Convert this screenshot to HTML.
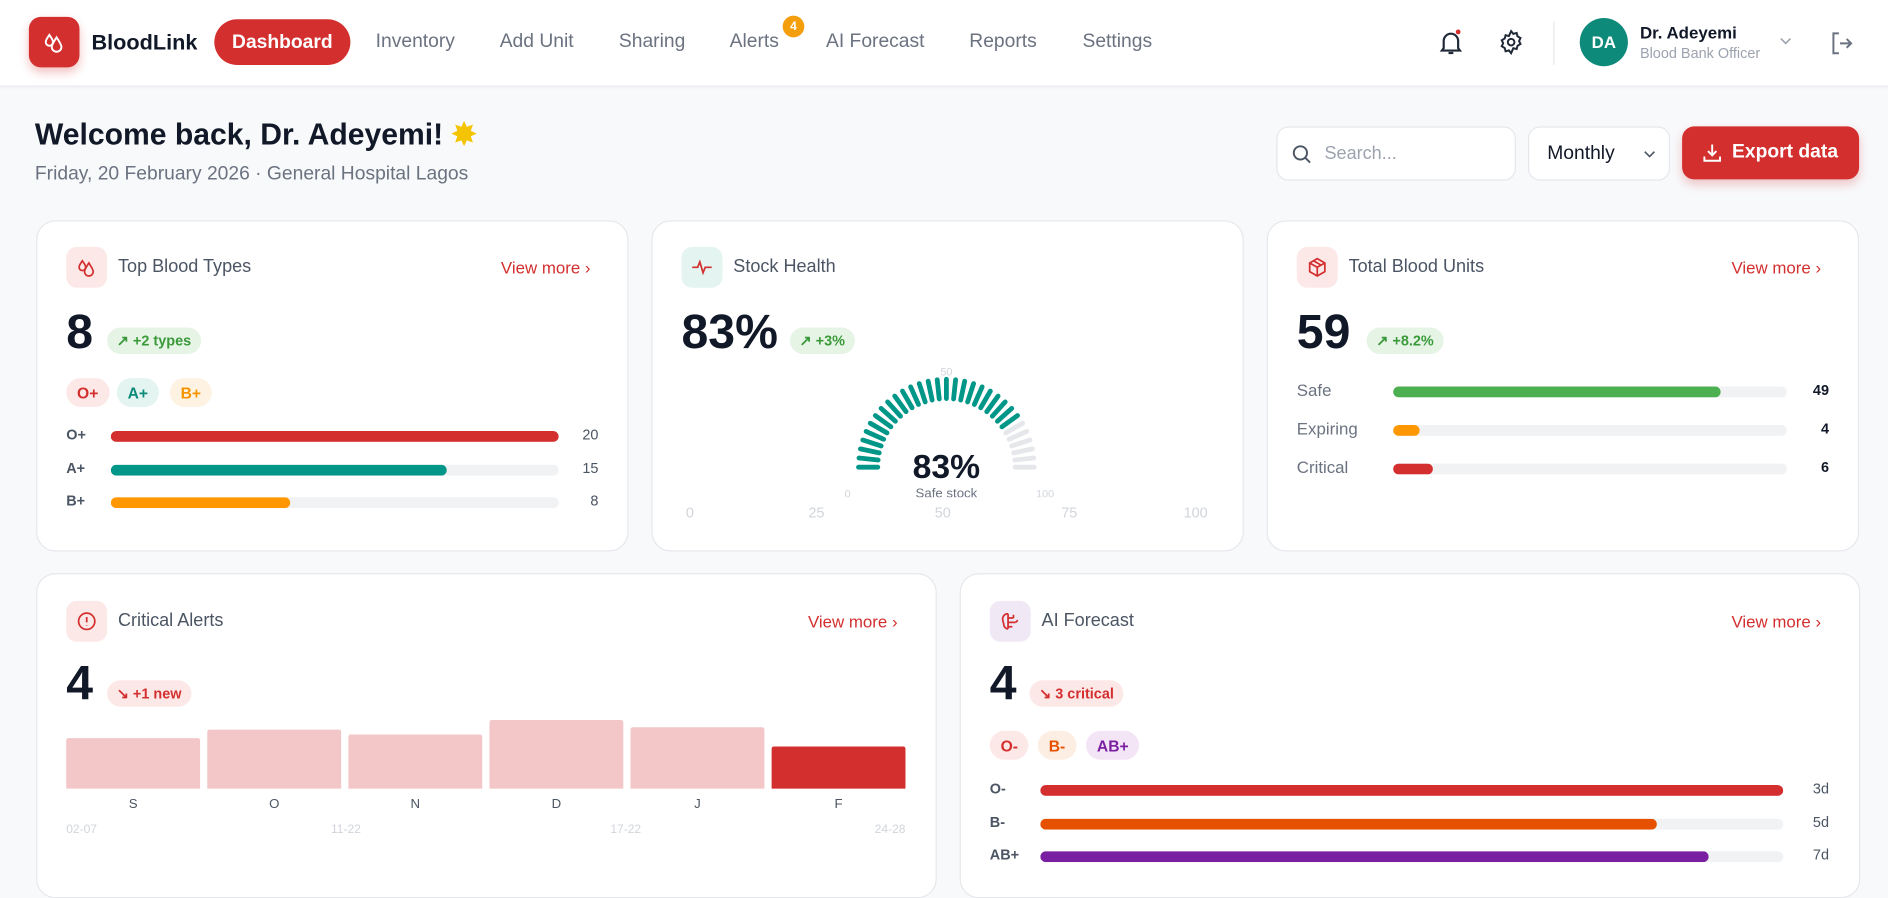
<!DOCTYPE html>
<html><head><meta charset="utf-8">
<style>
*{box-sizing:border-box;margin:0;padding:0}
html,body{width:1888px;height:873px;overflow:hidden;background:#f8f9fb;font-family:"Liberation Sans",sans-serif}
#w{position:absolute;left:0;top:0;width:1568px;height:725px;transform:scale(1.20408);transform-origin:0 0}
.a{position:absolute}
.hdr{left:0;top:0;width:1568px;height:72px;background:#fff;border-bottom:1px solid #e8eaee;box-shadow:0 1px 3px rgba(0,0,0,.04)}
.nav{top:26px;font-size:16px;color:#6b7280}
.card{background:#fff;border:1px solid #e6e8ec;border-radius:16px}
.ic{width:34px;height:34px;border-radius:9px;display:flex;align-items:center;justify-content:center}
.ttl{font-size:15px;color:#4b5563}
.vm{font-size:14px;color:#d32f2f}
.big{font-size:40px;font-weight:bold;color:#111827}
.bdg{height:22px;border-radius:11px;font-size:12px;font-weight:bold;padding:0 8px;display:flex;align-items:center}
.chip{height:24px;border-radius:12px;font-size:13px;font-weight:bold;padding:0 9px;display:flex;align-items:center}
.lbl{font-size:12px;color:#4b5563}
.trk{height:9px;border-radius:5px;background:#f1f2f4;overflow:hidden}
.fill{height:9px;border-radius:5px}
.val{font-size:12px;color:#4b5563;text-align:right;width:30px}
</style></head><body>
<div id="w">
<div class="a hdr"></div>
<div class="a" style="left:24px;top:14px;width:42px;height:42px;border-radius:10px;background:#d32f2f;box-shadow:0 4px 8px rgba(211,47,47,.3);display:flex;align-items:center;justify-content:center"><svg width="20" height="20" viewBox="0 0 20 20" fill="none" stroke="#fff" stroke-width="1.6"><path d="M6 4c-2 3-3 4-3 6a3 3 0 006 0c0-2-1-3-3-6z"/><path d="M12 6c-2.5 4-4 6-4 8a4 4 0 008 0c0-2-1.5-4-4-8z"/></svg></div>
<div class="a" style="left:76px;top:25px;font-size:18px;font-weight:bold;color:#111827">BloodLink</div>
<div class="a" style="left:178px;top:16px;width:113px;height:38px;border-radius:19px;background:#d32f2f;color:#fff;font-size:16px;font-weight:bold;display:flex;align-items:center;justify-content:center;padding-top:2px">Dashboard</div>
<div class="a nav" style="left:312px">Inventory</div>
<div class="a nav" style="left:415px">Add Unit</div>
<div class="a nav" style="left:514px">Sharing</div>
<div class="a nav" style="left:606px">Alerts</div>
<div class="a" style="left:650px;top:13px;width:18px;height:18px;border-radius:9px;background:#f59e0b;color:#fff;font-size:10px;font-weight:bold;display:flex;align-items:center;justify-content:center">4</div>
<div class="a nav" style="left:686px">AI Forecast</div>
<div class="a nav" style="left:805px">Reports</div>
<div class="a nav" style="left:899px">Settings</div>
<svg class="a" style="left:1193px;top:23px" width="24" height="24" viewBox="0 0 24 24" fill="none" stroke="#1f2937" stroke-width="1.8"><path d="M6 17V11a6 6 0 0112 0v6l1.5 2h-15z"/><path d="M10 21h4"/><circle cx="18" cy="3.5" r="2" fill="#d32f2f" stroke="none"/></svg>
<svg class="a" style="left:1244px;top:24px" width="22" height="22" viewBox="0 0 24 24" fill="none" stroke="#1f2937" stroke-width="1.8"><circle cx="12" cy="12" r="3"/><path d="M12 2l2 2.5 3-.8.8 3 2.7 1.6-1.3 2.7 1.3 2.7-2.7 1.6-.8 3-3-.8L12 22l-2-2.5-3 .8-.8-3L3.5 15.7 4.8 13 3.5 10.3l2.7-1.6.8-3 3 .8z"/></svg>
<div class="a" style="left:1290px;top:18px;width:1px;height:36px;background:#e5e7eb"></div>
<div class="a" style="left:1312px;top:15px;width:40px;height:40px;border-radius:20px;background:#0e8a7a;color:#fff;font-size:14px;font-weight:bold;display:flex;align-items:center;justify-content:center">DA</div>
<div class="a" style="left:1362px;top:19px;font-size:14px;font-weight:bold;color:#111827">Dr. Adeyemi</div>
<div class="a" style="left:1362px;top:37px;font-size:12px;color:#9ca3af">Blood Bank Officer</div>
<svg class="a" style="left:1478px;top:31px" width="10" height="7" viewBox="0 0 10 7" fill="none" stroke="#9ca3af" stroke-width="1.3"><path d="M1 1l4 4 4-4"/></svg>
<svg class="a" style="left:1519px;top:25px" width="22" height="22" viewBox="0 0 24 24" fill="none" stroke="#6b7280" stroke-width="1.8"><path d="M9 3H4v18h5"/><path d="M10 12h10M16 8l4 4-4 4"/></svg>

<div class="a" style="left:29px;top:97px;font-size:25px;font-weight:bold;color:#111827">Welcome back, Dr. Adeyemi! <span style="color:#f5c400">&#10040;</span></div>
<div class="a" style="left:29px;top:136px;font-size:16px;color:#6b7280">Friday, 20 February 2026 · General Hospital Lagos</div>
<div class="a" style="left:1060px;top:105px;width:199px;height:45px;background:#fff;border:1px solid #e5e7eb;border-radius:10px"><svg class="a" style="left:12px;top:14px" width="16" height="16" viewBox="0 0 16 16" fill="none" stroke="#4b5563" stroke-width="1.6"><circle cx="7" cy="7" r="5.5"/><path d="M11 11l4 4"/></svg><span class="a" style="left:39px;top:13px;font-size:15px;color:#9ca3af">Search...</span></div>
<div class="a" style="left:1269px;top:105px;width:118px;height:45px;background:#fff;border:1px solid #e5e7eb;border-radius:10px"><span class="a" style="left:15px;top:13px;font-size:16px;color:#111827">Monthly</span><svg class="a" style="left:95px;top:19px" width="10" height="7" viewBox="0 0 10 7" fill="none" stroke="#4b5563" stroke-width="1.3"><path d="M1 1l4 4 4-4"/></svg></div>
<div class="a" style="left:1397px;top:105px;width:147px;height:44px;background:#d32f2f;border-radius:10px;box-shadow:0 4px 8px rgba(211,47,47,.25);color:#fff;font-size:16px;font-weight:bold;display:flex;align-items:center;justify-content:center;gap:8px"><svg width="16" height="16" viewBox="0 0 16 16" fill="none" stroke="#fff" stroke-width="1.6"><path d="M8 1v9M4.5 6.5L8 10l3.5-3.5M1.5 11v3.5h13V11"/></svg>Export data</div>

<!-- Card 1 -->
<div class="a card" style="left:30px;top:183px;width:492px;height:275px"></div>
<div class="a ic" style="left:55px;top:205px;background:#fde8e8"><svg width="18" height="18" viewBox="0 0 20 20" fill="none" stroke="#d32f2f" stroke-width="1.6"><path d="M6 4c-2 3-3 4-3 6a3 3 0 006 0c0-2-1-3-3-6z"/><path d="M12 6c-2.5 4-4 6-4 8a4 4 0 008 0c0-2-1.5-4-4-8z"/></svg></div>
<div class="a ttl" style="left:98px;top:213px">Top Blood Types</div>
<div class="a vm" style="left:416px;top:214px">View more &#8250;</div>
<div class="a big" style="left:55px;top:254px">8</div>
<div class="a bdg" style="left:89px;top:272px;background:#e6f4e6;color:#3a9a3a">&#8599; +2 types</div>
<div class="a chip" style="left:55px;top:314px;background:#fde8e8;color:#d32f2f">O+</div>
<div class="a chip" style="left:97px;top:314px;background:#e3f4f1;color:#0e8a7a">A+</div>
<div class="a chip" style="left:141px;top:314px;background:#fef3e2;color:#f59300">B+</div>
<div id="c1"></div>

<!-- Card 2 -->
<div class="a card" style="left:541px;top:183px;width:492px;height:275px"></div>
<div class="a ic" style="left:566px;top:205px;background:#e3f4f1"><svg width="18" height="18" viewBox="0 0 20 20" fill="none" stroke="#d32f2f" stroke-width="1.6"><path d="M1 10h5l2-5 3 10 2-5h6"/></svg></div>
<div class="a ttl" style="left:609px;top:213px">Stock Health</div>
<div class="a big" style="left:566px;top:254px">83%</div>
<div class="a bdg" style="left:656px;top:272px;background:#e6f4e6;color:#3a9a3a">&#8599; +3%</div>
<svg class="a" id="gauge" style="left:541px;top:290px" width="492" height="150"></svg>

<!-- Card 3 -->
<div class="a card" style="left:1052px;top:183px;width:492px;height:275px"></div>
<div class="a ic" style="left:1077px;top:205px;background:#fde8e8"><svg width="18" height="18" viewBox="0 0 20 20" fill="none" stroke="#d32f2f" stroke-width="1.6"><path d="M10 2l7 4v8l-7 4-7-4V6z"/><path d="M3 6l7 4 7-4M10 10v8M6.5 4l7 4"/></svg></div>
<div class="a ttl" style="left:1120px;top:213px">Total Blood Units</div>
<div class="a vm" style="left:1438px;top:214px">View more &#8250;</div>
<div class="a big" style="left:1077px;top:254px">59</div>
<div class="a bdg" style="left:1135px;top:272px;background:#e6f4e6;color:#3a9a3a">&#8599; +8.2%</div>
<div id="c3"></div>

<!-- Card 4 -->
<div class="a card" style="left:30px;top:476px;width:748px;height:270px"></div>
<div class="a ic" style="left:55px;top:499px;background:#fde8e8"><svg width="18" height="18" viewBox="0 0 20 20" fill="none" stroke="#d32f2f" stroke-width="1.6"><circle cx="10" cy="10" r="7.5"/><path d="M10 6v5M10 13.5v.5"/></svg></div>
<div class="a ttl" style="left:98px;top:507px">Critical Alerts</div>
<div class="a vm" style="left:671px;top:508px">View more &#8250;</div>
<div class="a big" style="left:55px;top:546px">4</div>
<div class="a bdg" style="left:89px;top:565px;background:#fde8e8;color:#d32f2f">&#8600; +1 new</div>
<svg class="a" id="alerts" style="left:30px;top:580px" width="748" height="120"></svg>

<!-- Card 5 -->
<div class="a card" style="left:797px;top:476px;width:748px;height:270px"></div>
<div class="a ic" style="left:822px;top:499px;background:#f1e8f6"><svg width="18" height="18" viewBox="0 0 20 20" fill="none" stroke="#d32f2f" stroke-width="1.6"><path d="M8 3c-3 0-5 2-5 5 0 2 1 3 1 5s2 4 4 4M8 3v14M8 7h5M8 11h7M8 15h4M13 7v-3M15 11l2-2"/></svg></div>
<div class="a ttl" style="left:865px;top:507px">AI Forecast</div>
<div class="a vm" style="left:1438px;top:508px">View more &#8250;</div>
<div class="a big" style="left:822px;top:546px">4</div>
<div class="a bdg" style="left:855px;top:565px;background:#fde8e8;color:#d32f2f">&#8600; 3 critical</div>
<div class="a chip" style="left:822px;top:607px;background:#fde8e8;color:#d32f2f">O-</div>
<div class="a chip" style="left:862px;top:607px;background:#fdeee4;color:#e65100">B-</div>
<div class="a chip" style="left:902px;top:607px;background:#f3e5f5;color:#7b1fa2">AB+</div>
<div id="c5"></div>
</div>

<script>
var btLabels=["O+","A+","B+"];
var btValues=[20,15,8];
var btColors=["#d32f2f","#009688","#ff9800"];
var unitLabels=["Safe","Expiring","Critical"];
var unitValues=[49,4,6];
var unitColors=["#4caf50","#ff9800","#d32f2f"];
var unitTotal=59;
var fcLabels=["O-","B-","AB+"];
var fcDays=["3d","5d","7d"];
var fcRisk=[1.0,0.83,0.9];
var fcColors=["#d32f2f","#e65100","#7b1fa2"];
var alertMonths=["S","O","N","D","J","F"];
var alertValues=[42,49,45,57,51,35];
var alertDates=["02-07","11-22","17-22","24-28"];
var gaugeValue=83;
var gaugeTicks=["0","25","50","75","100"];

function rows(id,x0,lblX,w,y0,dy,labels,fr,colors,vals,valX,bold,prefix){
  var host=document.getElementById(id);
  labels.forEach(function(l,i){
    var y=y0+i*dy;
    var lb=document.createElement('div');lb.className='a lbl';
    
    
    lb.style.left=lblX+'px';lb.style.top=(y-8)+'px';lb.textContent=l;
    if(bold){lb.style.fontWeight='bold';}else{lb.style.fontSize='14px';lb.style.color='#6b7280';lb.style.top=(y-9)+'px';}
    host.appendChild(lb);
    var t=document.createElement('div');t.className='a trk';
    
    
    t.style.left=x0+'px';t.style.top=(y-4)+'px';t.style.width=w+'px';
    var f=document.createElement('div');f.className='fill';
    
    
    f.style.width=(Math.max(0,Math.min(1,fr[i]))*w)+'px';f.style.background=colors[i];
    t.appendChild(f);host.appendChild(t);
    var v=document.createElement('div');v.className='a val';
    
    
    v.style.left=(valX-30)+'px';v.style.top=(y-8)+'px';v.textContent=vals[i];
    if(!bold){v.style.fontWeight='bold';v.style.color='#111827';}
    host.appendChild(v);
  });
}
var btMax=Math.max.apply(null,btValues);
rows('c1',92,55,372,362,27.5,btLabels,btValues.map(function(v){return v/btMax;}),btColors,btValues,497,true,'blood-type');
rows('c3',1157,1077,327,325,32,unitLabels,unitValues.map(function(v){return v/unitTotal;}),unitColors,unitValues,1519,false,'units');
rows('c5',864,822,617,656,27.5,fcLabels,fcRisk,fcColors,fcDays,1519,true,'forecast');

var NS='http://www.w3.org/2000/svg';
function el(p,tag,attrs){var e=document.createElementNS(NS,tag);for(var k in attrs)e.setAttribute(k,attrs[k]);p.appendChild(e);return e;}
// gauge
(function(){
  var g=document.getElementById('gauge');
  var cx=245,cy=98,r1=57,r2=73,n=31;
  var clip=el(g,'clipPath',{id:'gc'});el(clip,'rect',{x:0,y:0,width:492,height:123});
  var grp=el(g,'g',{'clip-path':'url(#gc)'});
  for(var i=0;i<n;i++){
    var p=i/(n-1),ang=Math.PI*(1-p);
    var tk=el(grp,'line',{x1:cx+r1*Math.cos(ang),y1:cy-r1*Math.sin(ang),x2:cx+r2*Math.cos(ang),y2:cy-r2*Math.sin(ang),stroke:(p*100<=gaugeValue?'#009688':'#e5e7eb'),'stroke-width':4,'stroke-linecap':'round'});
    
    
  }
  var lbs=[[0,"0"],[50,"50"],[100,"100"]];
  lbs.forEach(function(a){var ang=Math.PI*(1-a[0]/100);var t=el(grp,'text',{x:cx+82*Math.cos(ang),y:cy-82*Math.sin(ang)+(a[0]==50?6:25),'font-size':9,fill:'#d1d5db','text-anchor':'middle','font-family':'Liberation Sans'});t.textContent=a[1];});
  var c=el(grp,'text',{x:cx,y:cy+9,'font-size':28,'font-weight':'bold',fill:'#111827','text-anchor':'middle','font-family':'Liberation Sans'});c.textContent=gaugeValue+'%';
  
  var s=el(grp,'text',{x:cx,y:cy+25,'font-size':11,fill:'#6b7280','text-anchor':'middle','font-family':'Liberation Sans'});s.textContent='Safe stock';
  gaugeTicks.forEach(function(t,i){var x=32+i*(420/(gaugeTicks.length-1));var e=el(g,'text',{x:x,y:140,'font-size':12,fill:'#d1d5db','text-anchor':'middle','font-family':'Liberation Sans'});e.textContent=t;
    
    });
})();
// alerts bars
(function(){
  var g=document.getElementById('alerts');
  var x0=25,w=697,base=75,gap=6,scale=1.0;
  var bw=(w-gap*(alertMonths.length-1))/alertMonths.length;
  alertMonths.forEach(function(m,i){
    var h=alertValues[i]*scale,x=x0+i*(bw+gap);
    var b=el(g,'path',{d:'M'+x+','+base+'V'+(base-h+2)+'q0,-2 2,-2h'+(bw-4)+'q2,0 2,2V'+base+'z',fill:(i==alertMonths.length-1?'#d32f2f':'#f3c6c7')});
    
    
    var t=el(g,'text',{x:x+bw/2,y:base+16,'font-size':11,fill:'#4b5563','text-anchor':'middle','font-family':'Liberation Sans'});t.textContent=m;
    
    
  });
  alertDates.forEach(function(d,i){var p=i/(alertDates.length-1);var t=el(g,'text',{x:x0+p*w,y:base+37,'font-size':10,fill:'#d1d5db','text-anchor':(i==0?'start':(i==alertDates.length-1?'end':'middle')),'font-family':'Liberation Sans'});t.textContent=d;
    
    });
})();
</script>
</body></html>
